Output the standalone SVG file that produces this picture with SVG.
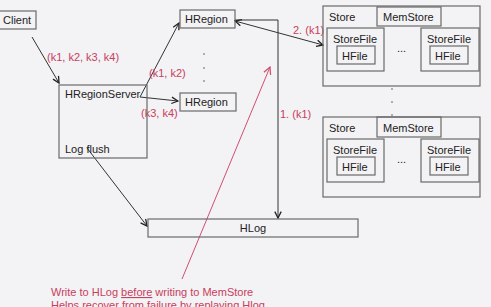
<svg xmlns="http://www.w3.org/2000/svg" width="491" height="307" viewBox="0 0 491 307">
  <style>
    .box { fill: none; stroke: #6a6a6a; stroke-width: 1.2; }
    .lbl { font-family: "Liberation Sans", Arial, sans-serif; font-size: 11px; fill: #222; }
    .red { font-family: "Liberation Sans", Arial, sans-serif; font-size: 11px; fill: #c8405e; }
    .arr { fill: none; stroke: #333; stroke-width: 1; }
    .dot { fill: #555; }
  </style>
  <defs>
    <marker id="open" viewBox="0 0 10 10" refX="9" refY="5" markerWidth="8" markerHeight="8" orient="auto-start-reverse" markerUnits="userSpaceOnUse">
      <path d="M1,1 L9,5 L1,9" fill="none" stroke="#222" stroke-width="1.6"/>
    </marker>
    <marker id="openRed" viewBox="0 0 10 10" refX="9" refY="5" markerWidth="9" markerHeight="9" orient="auto" markerUnits="userSpaceOnUse">
      <path d="M1,1 L9,5 L1,9" fill="none" stroke="#d05070" stroke-width="1.4"/>
    </marker>
  </defs>

  <rect width="491" height="307" fill="#f3f2f4"/>

  <!-- connectors -->
  <g id="connectors">
    <line class="arr" x1="32" y1="37" x2="59" y2="83" marker-end="url(#open)"/>
    <line class="arr" x1="140" y1="97" x2="179" y2="23" marker-end="url(#open)"/>
    <line class="arr" x1="140" y1="97" x2="178" y2="101" marker-end="url(#open)"/>
    <line class="arr" x1="235" y1="21" x2="323" y2="45" marker-start="url(#open)" marker-end="url(#open)"/>
    <polyline class="arr" points="235,20 278,20 278,218" marker-end="url(#open)"/>
    <line class="arr" x1="87" y1="148" x2="147" y2="226" marker-end="url(#open)"/>
    <line x1="182" y1="279" x2="270" y2="67" stroke="#d05070" stroke-width="1" marker-end="url(#openRed)"/>
  </g>

  <!-- connector labels -->
  <g id="labels">
    <text class="red" x="47" y="61">(k1, k2, k3, k4)</text>
    <text class="red" x="149" y="77">(k1, k2)</text>
    <text class="red" x="141" y="117">(k3, k4)</text>
    <text class="red" x="293" y="34">2. (k1)</text>
    <text class="red" x="280" y="118">1. (k1)</text>
  </g>

  <g id="client">
    <rect class="box" x="-2" y="11" width="38" height="18"/>
    <text class="lbl" x="3" y="24">Client</text>
  </g>

  <g id="hregionserver">
    <rect class="box" x="59" y="85" width="88" height="73"/>
    <text class="lbl" x="65" y="98">HRegionServer</text>
    <text class="lbl" x="65" y="153">Log flush</text>
  </g>

  <g id="hregion-1">
    <rect class="box" x="180" y="10" width="55" height="18"/>
    <text class="lbl" x="185" y="23">HRegion</text>
  </g>

  <g id="hregion-dots">
    <circle class="dot" cx="204" cy="54" r="0.8"/>
    <circle class="dot" cx="204" cy="68" r="0.8"/>
    <circle class="dot" cx="204" cy="81" r="0.8"/>
  </g>

  <g id="hregion-2">
    <rect class="box" x="180" y="93" width="56" height="18"/>
    <text class="lbl" x="185" y="106">HRegion</text>
  </g>

  <g id="store-1">
    <rect class="box" x="323" y="6" width="157" height="80"/>
    <text class="lbl" x="329" y="21">Store</text>
    <rect class="box" x="377" y="7" width="64" height="19"/>
    <text class="lbl" x="383" y="21">MemStore</text>
    <rect class="box" x="327" y="28" width="57" height="43"/>
    <text class="lbl" x="333" y="43">StoreFile</text>
    <rect class="box" x="337" y="46" width="38" height="18"/>
    <text class="lbl" x="342" y="60">HFile</text>
    <text class="lbl" x="397" y="52" fill="#666">...</text>
    <rect class="box" x="421" y="28" width="58" height="43"/>
    <text class="lbl" x="427" y="43">StoreFile</text>
    <rect class="box" x="430" y="46" width="38" height="18"/>
    <text class="lbl" x="435" y="60">HFile</text>
  </g>

  <g id="store-dots">
    <circle class="dot" cx="392" cy="89" r="0.8"/>
    <circle class="dot" cx="392" cy="102" r="0.8"/>
    <circle class="dot" cx="392" cy="115" r="0.8"/>
  </g>

  <g id="store-2">
    <rect class="box" x="323" y="117" width="157" height="80"/>
    <text class="lbl" x="329" y="132">Store</text>
    <rect class="box" x="377" y="117" width="64" height="20"/>
    <text class="lbl" x="383" y="132">MemStore</text>
    <rect class="box" x="327" y="139" width="57" height="43"/>
    <text class="lbl" x="333" y="154">StoreFile</text>
    <rect class="box" x="337" y="157" width="38" height="18"/>
    <text class="lbl" x="342" y="171">HFile</text>
    <text class="lbl" x="397" y="163" fill="#666">...</text>
    <rect class="box" x="421" y="139" width="58" height="43"/>
    <text class="lbl" x="427" y="154">StoreFile</text>
    <rect class="box" x="430" y="157" width="38" height="18"/>
    <text class="lbl" x="435" y="171">HFile</text>
  </g>

  <g id="hlog">
    <rect class="box" x="148" y="219" width="210" height="18"/>
    <text class="lbl" x="253" y="232" text-anchor="middle">HLog</text>
  </g>

  <g id="note">
    <text class="red" x="51" y="296">Write to HLog <tspan text-decoration="underline">before</tspan> writing to MemStore</text>
    <text class="red" x="51" y="309">Helps recover from failure by replaying Hlog.</text>
  </g>
</svg>
